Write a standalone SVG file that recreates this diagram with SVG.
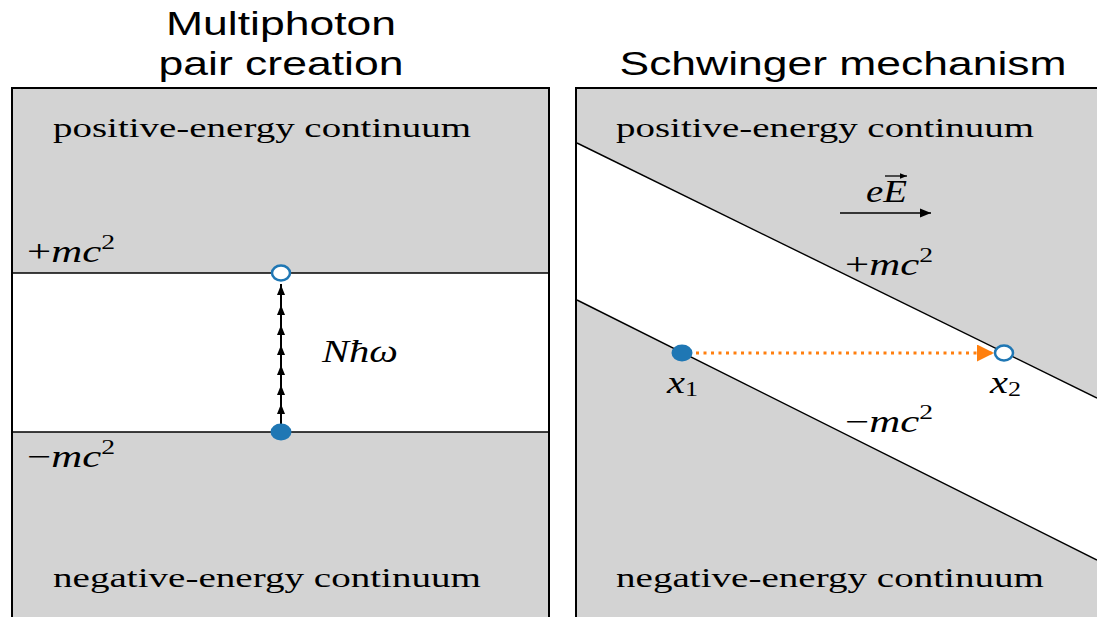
<svg xmlns="http://www.w3.org/2000/svg" width="1097" height="617" viewBox="0 0 1097 617">
<style>
.panel{fill:#d3d3d3;stroke:#000;stroke-width:2}
.edge{stroke:#000;stroke-width:1.4;fill:none}
.title{font-family:"Liberation Sans",Arial,sans-serif;font-size:34px;fill:#000}
.lbl{font-family:"Liberation Serif","DejaVu Serif",serif;font-size:27px;fill:#000}
.math{font-family:"Liberation Serif","DejaVu Serif",serif;font-size:31px;fill:#000}
.it{font-style:italic}
</style>
<defs>
<marker id="tri" viewBox="0 0 10 10" refX="10" refY="5" markerWidth="11" markerHeight="11" markerUnits="userSpaceOnUse" orient="auto">
<path d="M0,1 L10,5 L0,9 Z" fill="#000"/>
</marker>
<marker id="vtri" viewBox="0 0 10 10" refX="10" refY="5" markerWidth="7" markerHeight="7" markerUnits="userSpaceOnUse" orient="auto">
<path d="M0,1 L10,5 L0,9 Z" fill="#000"/>
</marker>
<marker id="otri" viewBox="0 0 10 10" refX="10" refY="5" markerWidth="17" markerHeight="17" markerUnits="userSpaceOnUse" orient="auto">
<path d="M0,0 L10,5 L0,10 Z" fill="#ff7f0e"/>
</marker>
</defs>
<rect width="1097" height="617" fill="#fff"/>

<g id="titles">
<text class="title" x="281" y="35" text-anchor="middle" textLength="230" lengthAdjust="spacingAndGlyphs">Multiphoton</text>
<text class="title" x="281" y="75" text-anchor="middle" textLength="245" lengthAdjust="spacingAndGlyphs">pair creation</text>
<text class="title" x="843" y="75" text-anchor="middle" textLength="447" lengthAdjust="spacingAndGlyphs">Schwinger mechanism</text>
</g>

<g id="left-panel">
<rect class="panel" x="12" y="88" width="537" height="540"/>
<rect x="13" y="273" width="535" height="159" fill="#fff"/>
<line class="edge" x1="13" y1="273" x2="548" y2="273"/>
<line class="edge" x1="13" y1="432" x2="548" y2="432"/>
<text class="lbl" x="53" y="137" textLength="418" lengthAdjust="spacingAndGlyphs">positive-energy continuum</text>
<text class="lbl" x="53" y="587" textLength="428" lengthAdjust="spacingAndGlyphs">negative-energy continuum</text>
<text class="math" x="27" y="262" textLength="88" lengthAdjust="spacingAndGlyphs"><tspan>+</tspan><tspan class="it">mc</tspan><tspan font-size="20" dy="-13">2</tspan></text>
<text class="math" x="27" y="467" textLength="88" lengthAdjust="spacingAndGlyphs"><tspan>−</tspan><tspan class="it">mc</tspan><tspan font-size="20" dy="-13">2</tspan></text>
<text class="math it" x="322" y="362" textLength="76" lengthAdjust="spacingAndGlyphs">Nħω</text>
</g>

<g id="right-panel">
<rect class="panel" x="576" y="88" width="540" height="540"/>
<polygon points="577,143 1097,398 1097,560 577,300" fill="#fff"/>
<line class="edge" x1="577" y1="143" x2="1097" y2="398"/>
<line class="edge" x1="577" y1="300" x2="1097" y2="560"/>
<text class="lbl" x="616" y="137" textLength="418" lengthAdjust="spacingAndGlyphs">positive-energy continuum</text>
<text class="lbl" x="616" y="587" textLength="428" lengthAdjust="spacingAndGlyphs">negative-energy continuum</text>
<text class="math" x="845" y="275" textLength="88" lengthAdjust="spacingAndGlyphs"><tspan>+</tspan><tspan class="it">mc</tspan><tspan font-size="20" dy="-13">2</tspan></text>
<text class="math" x="845" y="432" textLength="88" lengthAdjust="spacingAndGlyphs"><tspan>−</tspan><tspan class="it">mc</tspan><tspan font-size="20" dy="-13">2</tspan></text>
<text class="math it" x="866" y="202" font-size="28" textLength="41" lengthAdjust="spacingAndGlyphs">eE</text>
<line x1="885" y1="176" x2="907" y2="176" stroke="#000" stroke-width="1.3" marker-end="url(#vtri)"/>
<text class="math" x="667" y="393" textLength="31" lengthAdjust="spacingAndGlyphs"><tspan class="it">x</tspan><tspan font-size="20" dy="3">1</tspan></text>
<text class="math" x="990" y="393" textLength="31" lengthAdjust="spacingAndGlyphs"><tspan class="it">x</tspan><tspan font-size="20" dy="3">2</tspan></text>
</g>

<g id="connectors">
<line x1="281" y1="432" x2="281" y2="284" stroke="#000" stroke-width="2"/>
<g fill="#000">
<path d="M281,285 l-4,10 h8 z"/>
<path d="M281,305 l-4,10 h8 z"/>
<path d="M281,325 l-4,10 h8 z"/>
<path d="M281,345 l-4,10 h8 z"/>
<path d="M281,365 l-4,10 h8 z"/>
<path d="M281,385 l-4,10 h8 z"/>
<path d="M281,404 l-4,10 h8 z"/>
</g>
<line x1="840" y1="213" x2="931" y2="213" stroke="#000" stroke-width="1.6" marker-end="url(#tri)"/>
<line x1="696" y1="353" x2="994" y2="353" stroke="#ff7f0e" stroke-width="3" stroke-dasharray="3,4.5" marker-end="url(#otri)"/>
</g>

<g id="particles">
<ellipse cx="281" cy="273" rx="9" ry="7.5" fill="#fff" stroke="#1f77b4" stroke-width="2.5"/>
<ellipse cx="281" cy="432" rx="10.5" ry="8.5" fill="#1f77b4"/>
<ellipse cx="682" cy="353" rx="10.5" ry="8.5" fill="#1f77b4"/>
<ellipse cx="1004" cy="353" rx="9" ry="7.5" fill="#fff" stroke="#1f77b4" stroke-width="2.5"/>
</g>
</svg>
